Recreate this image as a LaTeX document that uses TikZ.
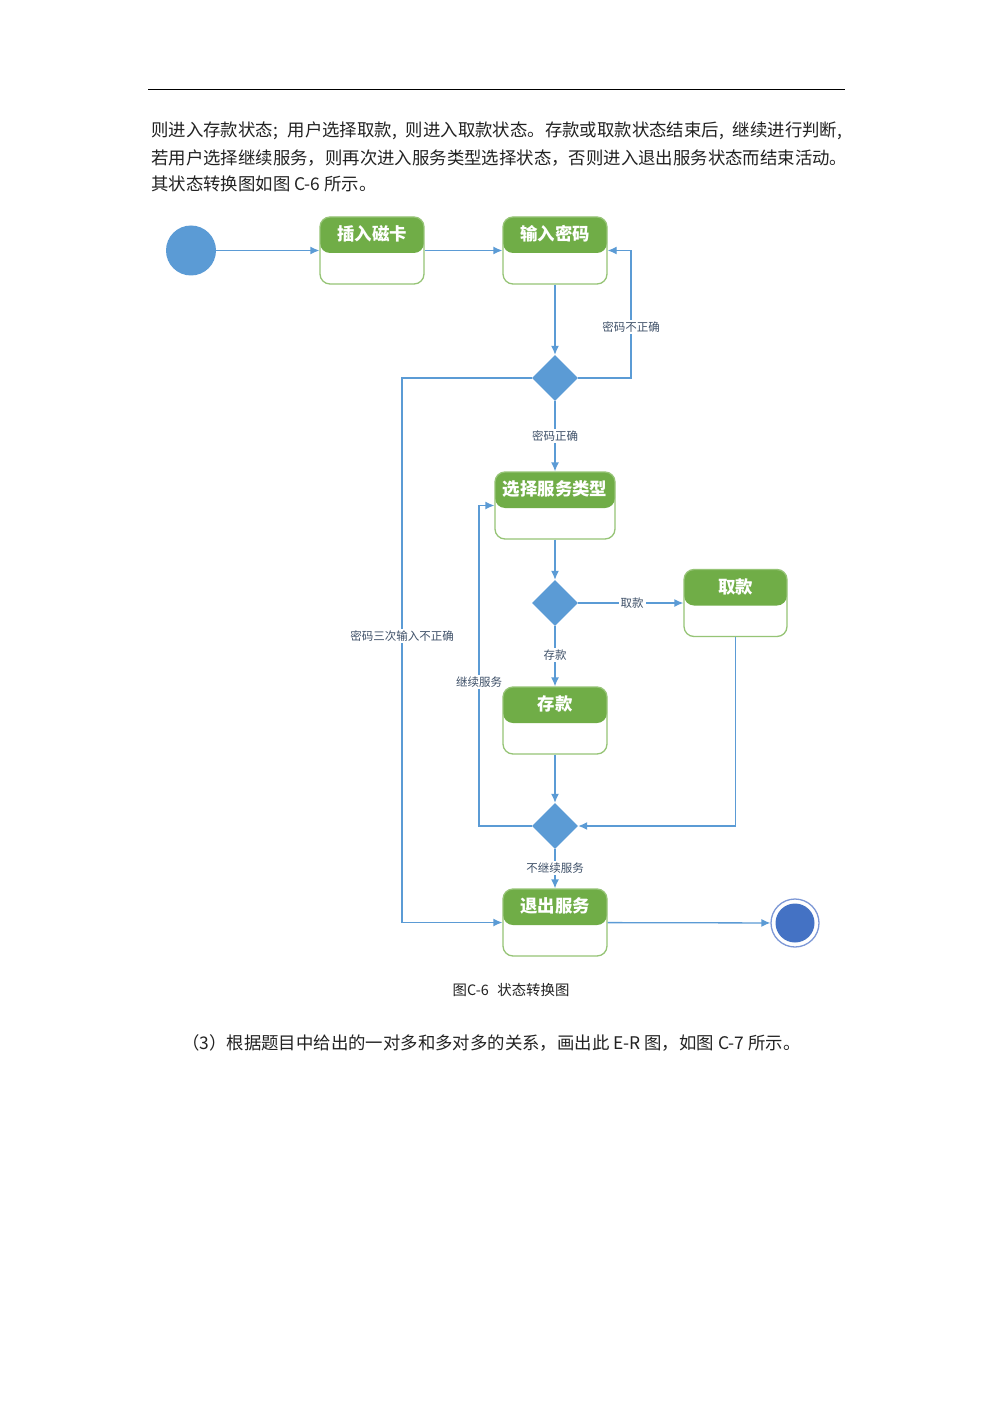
\documentclass[tikz,border=0pt]{standalone}
\usepackage{fontspec}
\setmainfont{Noto Sans CJK SC}
\usetikzlibrary{shapes.geometric,arrows.meta}
\definecolor{lineblue}{HTML}{5B9BD5}
\definecolor{hdrgreen}{HTML}{70AD47}
\definecolor{bordergreen}{HTML}{96C476}
\definecolor{lbltext}{HTML}{3E5068}
\definecolor{endblue}{HTML}{4472C4}
\definecolor{ringblue}{HTML}{7D98D6}
\definecolor{bodytext}{HTML}{222222}
\tikzset{
  flow/.style={draw=lineblue, line width=1.3pt, -{Latex[length=9pt,width=8pt]}},
  lbl/.style={fill=white, draw=none, inner sep=2pt, text=lbltext, font=\fontsize{11.5}{13}\selectfont},
  stbox/.style={rectangle, rounded corners=10pt, draw=bordergreen, line width=1.3pt, fill=white,
    minimum width=104pt, minimum height=67pt, inner sep=0pt,
    path picture={\fill[hdrgreen] (path picture bounding box.north west) rectangle ([yshift=-36pt]path picture bounding box.north east);
      \node[text=white, font=\fontsize{17.4}{20}\selectfont\bfseries] at ([yshift=-17pt]path picture bounding box.north) {#1};}},
  dec/.style={diamond, fill=lineblue, minimum width=46pt, minimum height=46pt, inner sep=0pt},
  body/.style={anchor=west, inner sep=0pt, text=bodytext, font=\fontsize{17.4}{20}\selectfont},
}
\begin{document}
\begin{tikzpicture}[x=1pt,y=-1pt]
\fill[white] (0,0) rectangle (993,1404);
\useasboundingbox (0,0) rectangle (993,1404);
% header rule
\draw[line width=1pt, black] (148,90) -- (845,90);
% body text
\node[body] (t1) at (151,131) {\makebox[691pt][s]{则进入存款状态; 用户选择取款, 则进入取款状态。存款或取款状态结束后, 继续进行判断,}};
\node[body] (t2) at (151,158) {若用户选择继续服务，则再次进入服务类型选择状态，否则进入退出服务状态而结束活动。};
\node[body] (t3) at (151,184) {其状态转换图如图 C-6 所示。};
% states
\node[circle, fill=lineblue, minimum size=50pt, inner sep=0pt] (start) at (191,250.5) {};
\node[stbox={插入磁卡}] (card) at (372,250.5) {};
\node[stbox={输入密码}] (pwd) at (555,250.5) {};
\node[dec] (d1) at (555,378) {};
\node[stbox={选择服务类型}, minimum width=120pt] (svc) at (555,505.5) {};
\node[dec] (d2) at (555,603) {};
\node[stbox={取款}, minimum width=103pt] (wd) at (735.5,603) {};
\node[stbox={存款}] (dep) at (555,720.5) {};
\node[dec] (d3) at (555,826) {};
\node[stbox={退出服务}] (quit) at (555,922.5) {};
\node[circle, draw=ringblue, line width=1.3pt, fill=white, minimum size=48pt, inner sep=0pt,
  path picture={\fill[endblue] (path picture bounding box.center) circle (19.5pt);}] (end) at (795,923) {};
% helper coordinates
\coordinate (c1) at (631,378);
\coordinate (c2) at (402,378);
\coordinate (c3) at (479,826);
% connectors
\draw[flow] (start) -- (card);
\draw[flow] (card) -- (pwd);
\draw[flow] (pwd.south) -- (d1.north);
\draw[flow] (d1.east) -- (c1) |- (pwd.east);
\draw[flow] (d1.south) -- (svc.north);
\draw[flow] (d1.west) -- (c2) |- (quit.west);
\draw[flow] (svc.south) -- (d2.north);
\draw[flow] (d2.east) -- (wd.west);
\draw[flow] (d2.south) -- (dep.north);
\draw[flow] (dep.south) -- (d3.north);
\draw[flow] (wd.south) |- (d3.east);
\draw[flow] (d3.west) -- (c3) |- (svc.west);
\draw[flow] (d3.south) -- (quit.north);
\draw[flow] (quit) -- (end);
% connector labels
\node[lbl] (l1) at (631,327) {密码不正确};
\node[lbl] (l2) at (555,436) {密码正确};
\node[lbl] (l3) at (402,636) {密码三次输入不正确};
\node[lbl] (l4) at (632,603) {取款};
\node[lbl] (l5) at (555,655) {存款};
\node[lbl] (l6) at (479,682) {继续服务};
\node[lbl] (l7) at (555,868) {不继续服务};
% caption and following text
\node[inner sep=0pt, text=bodytext, font=\fontsize{14.4}{17}\selectfont] (cap) at (511,990) {图C-6\hspace{0.6em}状态转换图};
\node[body] (t4) at (182,1043) {（3）根据题目中给出的一对多和多对多的关系，画出此 E-R 图，如图 C-7 所示。};
\end{tikzpicture}
\end{document}
